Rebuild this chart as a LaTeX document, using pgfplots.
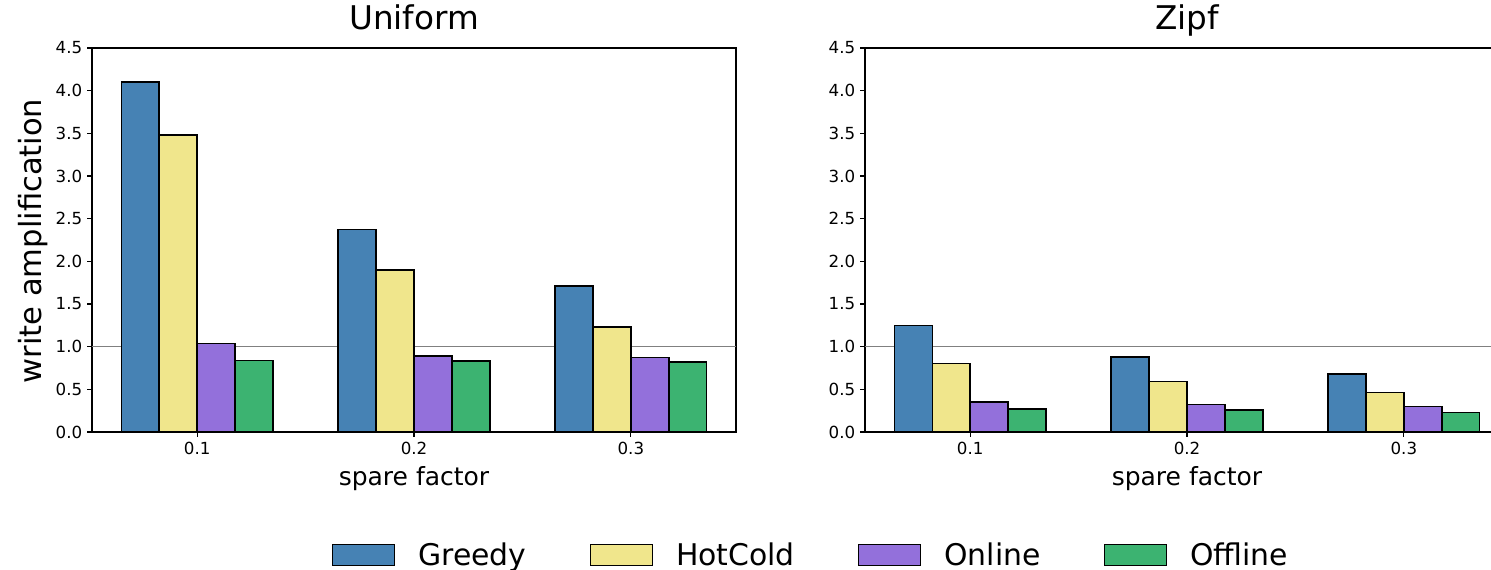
\documentclass[border=0pt]{standalone}
\usepackage{fontspec}
\setmainfont{DejaVu Sans}
\usepackage{pgfplots}
\pgfplotsset{compat=1.18}
\definecolor{cGreedy}{RGB}{70,130,180}
\definecolor{cHot}{RGB}{240,230,140}
\definecolor{cOnline}{RGB}{147,112,219}
\definecolor{cOffline}{RGB}{60,179,113}
\pgfplotsset{
  myaxis/.style={
    scale only axis, width=463.7pt, height=276.5pt,
    xmin=-0.485, xmax=2.485, ymin=0, ymax=4.5,
    ybar, bar width=0.175,
    xtick={0,1,2}, xticklabels={0.1,0.2,0.3},
    ytick={0,0.5,...,4.5},
    yticklabel style={/pgf/number format/.cd, fixed, fixed zerofill, precision=1},
    /pgf/number format/assume math mode=true,
    tick align=outside, major tick length=3.5pt,
    tick style={black, line width=0.8pt},
    xtick pos=bottom, ytick pos=left,
    axis line style={line width=0.8pt},
    ticklabel style={font=\fontsize{12}{14}\selectfont},
    title style={at={(0.5,1)}, anchor=base, yshift=7.2pt, font=\fontsize{23.5}{26}\selectfont},
    xlabel style={at={(axis description cs:0.5,0)}, anchor=base, yshift=-38.2pt, font=\fontsize{18}{20}\selectfont},
    xlabel={spare factor},
  },
  bb/.style={draw=black, line width=1.05pt, fill=#1},
}
\begin{document}
\begin{tikzpicture}
\useasboundingbox (-66.24pt,-98.64pt) rectangle (1007.28pt,311.04pt);
\begin{axis}[myaxis, at={(0pt,0pt)}, anchor=south west, title={Uniform},
  legend columns=4,
  legend style={at={(axis description cs:1.115,-0.32)}, anchor=center, draw=none, fill=none,
    font=\fontsize{21.5}{24}\selectfont, nodes={inner sep=0pt},
    /tikz/every odd column/.append style={column sep=16.6pt},
    /tikz/every even column/.append style={column sep=45.4pt}},
  legend image code/.code={\draw[#1] (0pt,-7.5pt) rectangle (44.6pt,7.5pt);},
]
\addplot[sharp plot, no marks, draw=gray, line width=0.6pt, forget plot] coordinates {(-0.485,1) (2.485,1)};
\addplot[bb=cGreedy, bar shift=-0.2625] coordinates {(0,4.10) (1,2.37) (2,1.71)};
\addplot[bb=cHot, bar shift=-0.0875] coordinates {(0,3.48) (1,1.90) (2,1.23)};
\addplot[bb=cOnline, bar shift=0.0875] coordinates {(0,1.04) (1,0.89) (2,0.87)};
\addplot[bb=cOffline, bar shift=0.2625] coordinates {(0,0.84) (1,0.83) (2,0.82)};
\legend{Greedy,HotCold,Online,Offline}
\end{axis}
\begin{axis}[myaxis, at={(556.56pt,0pt)}, anchor=south west, title={Zipf}]
\addplot[sharp plot, no marks, draw=gray, line width=0.6pt, forget plot] coordinates {(-0.485,1) (2.485,1)};
\addplot[bb=cGreedy, bar shift=-0.2625] coordinates {(0,1.25) (1,0.88) (2,0.68)};
\addplot[bb=cHot, bar shift=-0.0875] coordinates {(0,0.80) (1,0.59) (2,0.46)};
\addplot[bb=cOnline, bar shift=0.0875] coordinates {(0,0.35) (1,0.32) (2,0.30)};
\addplot[bb=cOffline, bar shift=0.2625] coordinates {(0,0.27) (1,0.26) (2,0.23)};
\end{axis}
\node[rotate=90, anchor=center, font=\fontsize{22}{24}\selectfont] at (-42.5pt,137.5pt) {write amplification};
\end{tikzpicture}
\end{document}
